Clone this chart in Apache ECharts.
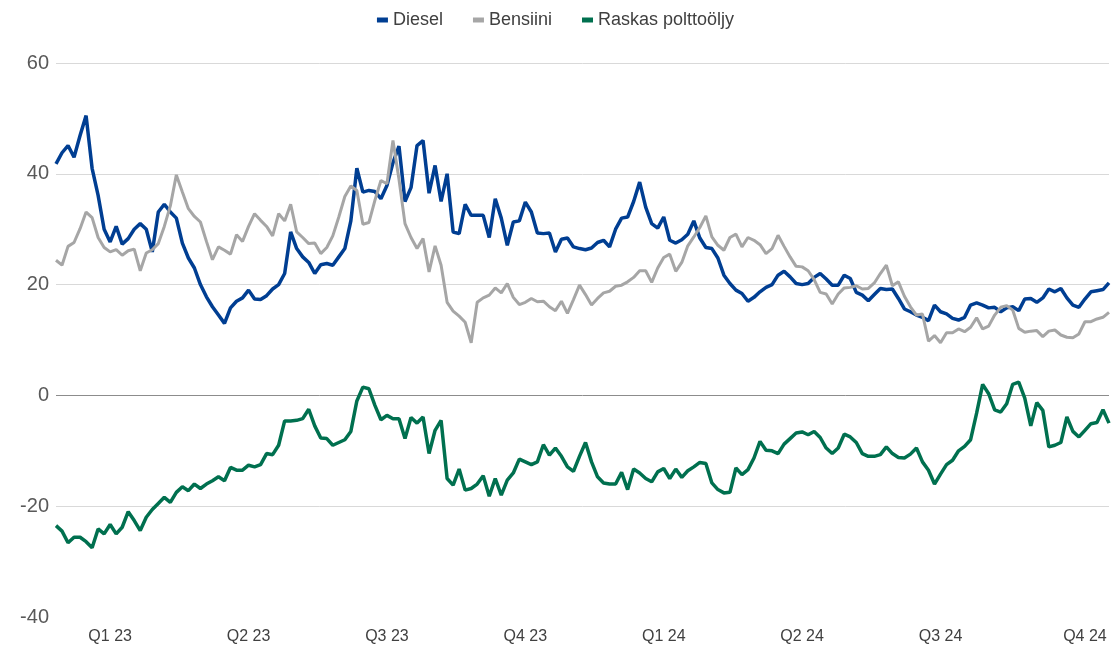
<!DOCTYPE html>
<html>
<head>
<meta charset="utf-8">
<title>Diesel, Bensiini, Raskas polttoöljy</title>
<script src="https://cdn.jsdelivr.net/npm/echarts@6/dist/echarts.min.js"></script>
<style>
  html, body { margin: 0; padding: 0; background: #fff; }
  #chart { width: 1111px; height: 647px; }
</style>
</head>
<body>
<div id="chart"></div>
<script>
// quarter tick labels and the sample index each one sits on
const quarterLabels = ['Q1 23', 'Q2 23', 'Q3 23', 'Q4 23', 'Q1 24', 'Q2 24', 'Q3 24', 'Q4 24']
const quarterIndex = [9, 32, 55, 78, 101, 124, 147, 171]

const diesel = [
  41.8, 43.8, 45.1, 43, 46.9, 50.5, 41, 36.1, 30, 27.7,
  30.5, 27.3, 28.3, 30, 31, 30, 25.9, 33.1, 34.5, 33.1,
  32, 27.5, 24.8, 23, 20, 17.8, 16, 14.5, 13, 15.8,
  17, 17.6, 19, 17.4, 17.3, 18, 19.2, 20, 22, 29.5,
  26.5, 25, 24, 22, 23.6, 23.8, 23.5, 25, 26.5, 31.5,
  41, 36.7, 37, 36.8, 35.5, 37.9, 42, 45, 35, 37.5,
  45.1, 46, 36.5, 41.5, 35, 40, 29.5, 29.2, 34.5, 32.5,
  32.5, 32.5, 28.5, 35.5, 32, 27.1, 31.3, 31.5, 34.9, 33.1,
  29.3, 29.2, 29.3, 25.9, 28.2, 28.4, 26.8, 26.5, 26.3, 26.6,
  27.6, 28, 26.8, 30, 32, 32.2, 35, 38.5, 34, 31,
  30.2, 32.2, 28, 27.5, 28.1, 29.1, 31.5, 28.4, 26.7, 26.5,
  24.8, 21.7, 20.2, 19, 18.4, 17, 17.7, 18.7, 19.5, 20,
  21.7, 22.4, 21.4, 20.2, 20, 20.2, 21.3, 22, 21, 19.9,
  19.9, 21.7, 21.1, 18.6, 18.1, 17.1, 18.2, 19.3, 19.1, 19.2,
  17.5, 15.6, 15.1, 14.5, 14.1, 13.5, 16.3, 15.1, 14.7, 13.9,
  13.6, 14.1, 16.3, 16.7, 16.3, 15.8, 15.9, 15.1, 15.8, 16,
  15.3, 17.4, 17.5, 16.8, 17.6, 19.2, 18.7, 19.3, 17.6, 16.3,
  15.9, 17.4, 18.7, 18.9, 19.1, 20.3
]

const bensiini = [
  24.4, 23.5, 26.9, 27.6, 30.1, 33.1, 32.1, 28.5, 26.7, 25.9,
  26.3, 25.3, 26.1, 26.4, 22.5, 25.7, 26.3, 27.4, 30.5, 34.2,
  39.8, 36.7, 33.7, 32.3, 31.3, 27.8, 24.5, 26.8, 26.2, 25.5,
  29, 27.8, 30.5, 32.8, 31.6, 30.5, 28.8, 32.8, 31.5, 34.5,
  29.5, 28.5, 27.4, 27.5, 25.6, 26.7, 28.8, 32.2, 35.9, 37.8,
  37, 30.9, 31.2, 35.2, 38.8, 38.2, 46, 39, 31, 28.5,
  26.5, 28.3, 22.3, 27, 23.5, 16.8, 15.2, 14.3, 13.2, 9.5,
  16.8, 17.6, 18.1, 19.4, 18.5, 20.2, 17.7, 16.4, 16.8, 17.5,
  16.9, 17, 16, 15.3, 17, 14.8, 17.3, 19.9, 18.2, 16.3,
  17.5, 18.5, 18.8, 19.7, 19.9, 20.5, 21.3, 22.5, 22.5, 20.4,
  23, 24.9, 25.5, 22.4, 24, 27, 28.6, 30.3, 32.4, 28.6,
  27.1, 26.2, 28.5, 29.1, 26.8, 28.5, 28, 27.2, 25.6, 26.5,
  28.9, 26.9, 25, 23.3, 23.2, 22.5, 20.9, 18.6, 18.3, 16.5,
  18.3, 19.4, 19.5, 19.8, 19.2, 19.3, 20.3, 22, 23.5, 19.8,
  20.5, 17.9, 16, 14.5, 14.7, 9.8, 10.8, 9.5, 11.3, 11.3,
  12, 11.5, 12.3, 14, 12, 12.5, 14.5, 15.9, 16.2, 15.4,
  12.1, 11.4, 11.6, 11.7, 10.6, 11.6, 11.8, 10.9, 10.5, 10.4,
  11.1, 13.3, 13.3, 13.8, 14.1, 15
]

const raskasPolttooljy = [
  -23.5, -24.5, -26.6, -25.6, -25.6, -26.4, -27.5, -24.1, -25, -23.3,
  -25, -23.8, -21, -22.6, -24.4, -22, -20.6, -19.5, -18.4, -19.3,
  -17.5, -16.5, -17.2, -16, -16.8, -16, -15.4, -14.7, -15.4, -13,
  -13.5, -13.5, -12.6, -12.9, -12.5, -10.5, -10.7, -9, -4.6, -4.6,
  -4.5, -4.2, -2.5, -5.5, -7.7, -7.8, -9, -8.5, -8, -6.5,
  -1, 1.5, 1.2, -1.8, -4.4, -3.6, -4.2, -4.2, -7.8, -4,
  -5, -3.9, -10.5, -6.3, -4.5, -15, -16.2, -13.3, -17.1, -16.8,
  -16, -14.5, -18.2, -15, -18, -15.3, -14, -11.5, -12, -12.5,
  -12, -8.9, -10.8, -9.5, -11, -12.9, -13.7, -11, -8.5, -12,
  -14.7, -15.8, -16, -16, -13.9, -17, -13.3, -14, -15, -15.6,
  -13.8, -13.2, -15, -13.3, -14.8, -13.6, -12.9, -12.1, -12.3, -15.8,
  -17, -17.6, -17.5, -13.1, -14.3, -13.4, -11.3, -8.3, -9.9, -10,
  -10.5, -8.8, -7.8, -6.8, -6.6, -7.1, -6.5, -7.6, -9.5, -10.5,
  -9.5, -7, -7.5, -8.5, -10.5, -11, -11, -10.7, -9.3, -10.5,
  -11.2, -11.3, -10.6, -9.5, -12, -13.5, -16, -14.2, -12.5, -11.7,
  -10, -9.2, -8, -3.2, 2, 0.3, -2.6, -3, -1.5, 2,
  2.4, -0.5, -5.5, -1.3, -2.7, -9.3, -9, -8.5, -3.9, -6.5,
  -7.5, -6.3, -5.1, -4.9, -2.6, -5
]

// one category per sample, only the quarter points carry a label
const categories = diesel.map((_, i) => {
  const k = quarterIndex.indexOf(i)
  return k >= 0 ? quarterLabels[k] : ''
})

const chart = echarts.init(document.getElementById('chart'))

const font = '"Liberation Sans", Arial, sans-serif'

chart.setOption({
  animation: false,
  backgroundColor: '#ffffff',
  textStyle: { fontFamily: font },
  legend: {
    top: 6,
    left: 'center',
    icon: 'rect',
    itemWidth: 11,
    itemHeight: 5,
    itemGap: 30,
    textStyle: { fontSize: 18, color: '#404040', fontFamily: font },
    data: ['Diesel', 'Bensiini', 'Raskas polttoöljy'],
  },
  grid: { left: 56, right: 2, top: 63, bottom: 30, containLabel: false },
  xAxis: {
    type: 'category',
    data: categories,
    boundaryGap: false,
    axisLine: { show: false, onZero: false },
    axisTick: { show: false },
    splitLine: { show: false },
    axisLabel: {
      interval: (idx, val) => val !== '',
      color: '#404040',
      fontSize: 16,
      margin: 12,
      fontFamily: font,
    },
  },
  yAxis: {
    type: 'value',
    min: -40,
    max: 60,
    interval: 20,
    axisLine: { show: false },
    axisTick: { show: false },
    axisLabel: { color: '#595959', fontSize: 20, margin: 7, fontFamily: font },
    splitLine: {
      lineStyle: {
        color: ['rgba(0,0,0,0)', '#d9d9d9', '#8c8c8c', '#d9d9d9', '#d9d9d9', '#d9d9d9'],
        width: 1,
      },
    },
  },
  series: [
    {
      name: 'Diesel',
      type: 'line',
      data: diesel,
      showSymbol: false,
      color: '#003e92',
      lineStyle: { width: 3.5, color: '#003e92' },
    },
    {
      name: 'Bensiini',
      type: 'line',
      data: bensiini,
      showSymbol: false,
      color: '#a6a6a6',
      lineStyle: { width: 3, color: '#a6a6a6' },
    },
    {
      name: 'Raskas polttoöljy',
      type: 'line',
      data: raskasPolttooljy,
      showSymbol: false,
      color: '#00704f',
      lineStyle: { width: 3.5, color: '#00704f' },
    },
  ],
})
</script>
</body>
</html>
